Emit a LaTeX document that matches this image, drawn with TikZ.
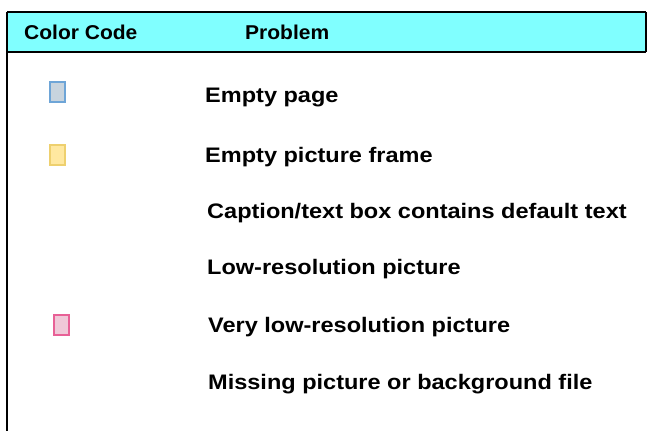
\documentclass[tikz,border=0pt]{standalone}
\usepackage{fontspec}
\setmainfont{Liberation Sans}
\newfontfamily\headfont[FakeStretch=1.05]{Liberation Sans}
\newfontfamily\rowfont[FakeStretch=1.12]{Liberation Sans}
\definecolor{headcyan}{RGB}{128,255,255}
\definecolor{bluebd}{RGB}{110,165,215}
\definecolor{bluefl}{RGB}{200,212,222}
\definecolor{yellowbd}{RGB}{238,208,110}
\definecolor{yellowfl}{RGB}{255,232,160}
\definecolor{pinkbd}{RGB}{232,96,150}
\definecolor{pinkfl}{RGB}{240,200,216}
\begin{document}
\begin{tikzpicture}[x=1pt, y=-1pt,
    heading/.style ={anchor=west, inner sep=0pt, font=\headfont\bfseries\fontsize{20}{24}\selectfont},
    problem/.style ={anchor=west, inner sep=0pt, font=\rowfont\bfseries\fontsize{21}{25}\selectfont},
    swatch/.style ={rectangle, line width=2pt, minimum width=15pt, minimum height=20pt, inner sep=0pt}]
   \useasboundingbox (0,0) rectangle (647,431);
   \fill[headcyan] (7,12) rectangle (646,52);
   \draw[line width=1.2pt] (7,12) -- (646,12);
   \draw[line width=2pt] (7,52) -- (646,52);
   \draw[line width=1.2pt] (646,12) -- (646,52);
   \draw[line width=2pt] (7,12) -- (7,431);

   \node[heading] (code)  at (24,32)  {Color Code};
   \node[heading] (prob)  at (245,32) {Problem};

   \node[problem] (P1) at (205,97)  {Empty page};
   \node[problem] (P2) at (205,157) {Empty picture frame};
   \node[problem] (P3) at (207,213) {Caption/text box contains default text};
   \node[problem] (P4) at (207,269) {Low-resolution picture};
   \node[problem] (P5) at (208,327) {Very low-resolution picture};
   \node[problem] (P6) at (208,384) {Missing picture or background file};

   \node[swatch, draw=bluebd, fill=bluefl]     (S1) at (57,92)  {};
   \node[swatch, draw=yellowbd, fill=yellowfl] (S2) at (57,155) {};
   \node[swatch, draw=pinkbd, fill=pinkfl]     (S5) at (61,325) {};
 \end{tikzpicture}
\end{document}
